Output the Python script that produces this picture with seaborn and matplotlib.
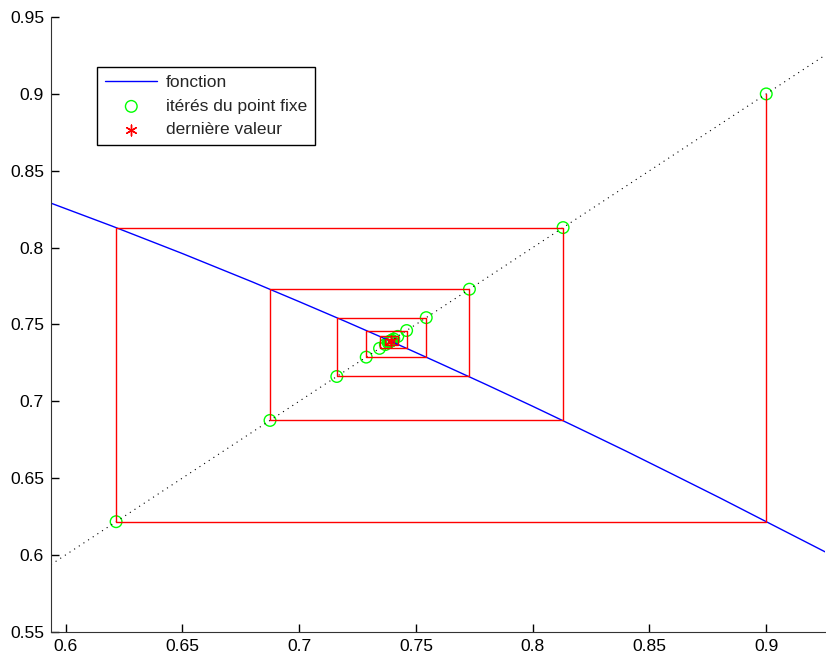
import numpy as np
import pandas as pd
import seaborn as sns
import matplotlib
matplotlib.use('Agg')
import matplotlib.pyplot as plt

# courbe de la fonction
fonc_x = [0.5937, 0.62, 0.65, 0.68, 0.70, 0.72, 0.74, 0.76, 0.78, 0.80, 0.82, 0.84, 0.86, 0.88, 0.90, 0.9253]
fonc_y = [0.8289, 0.8139, 0.7961, 0.7776, 0.7648, 0.7518, 0.7385, 0.7248, 0.7109, 0.6967, 0.6822, 0.6675, 0.6524, 0.6372, 0.6216, 0.6019]

# itérés du point fixe
iteres = [0.9000, 0.6216, 0.8130, 0.6875, 0.7729, 0.7161, 0.7544, 0.7287, 0.7460,
          0.7344, 0.7422, 0.7369, 0.7405, 0.7381, 0.7397, 0.7386, 0.7394, 0.7389,
          0.7392, 0.7390, 0.7391]
derniere = iteres[-1]

# diagonale y = x
diag = [0.5937, 0.9253]

sns.set_style('ticks')
plt.rcParams['font.family'] = ['Liberation Sans', 'DejaVu Sans']

fig = plt.figure(figsize=(8.26, 6.57), dpi=100)
ax = fig.add_axes([0.0617, 0.0385, 0.9375, 0.9355])

# escalier (cobweb)
cx, cy = [], []
for k in range(len(iteres) - 1):
    cx += [iteres[k], iteres[k]]
    cy += [iteres[k], iteres[k + 1]]
cx.append(iteres[-1]); cy.append(iteres[-1])
cob = pd.DataFrame({'x': cx, 'y': cy})

sns.lineplot(x=diag, y=diag, ax=ax, color='black', linestyle=(0, (1, 4)), linewidth=0.8, sort=False)
sns.lineplot(x=fonc_x, y=fonc_y, ax=ax, color='blue', linewidth=1, sort=False, label='fonction')
sns.lineplot(data=cob, x='x', y='y', ax=ax, color='red', linewidth=1, sort=False, estimator=None)
sns.scatterplot(x=iteres, y=iteres, ax=ax, marker='o', s=70, facecolors='none',
                edgecolor='#00ff00', linewidth=1, label='itérés du point fixe')
sns.scatterplot(x=[derniere], y=[derniere], ax=ax, marker=(6, 2, 0), s=60, color='red',
                edgecolor='red', linewidth=1, label='dernière valeur')

ax.set_xlim(0.5937, 0.9253)
ax.set_ylim(0.55, 0.95)
ax.set_xticks(np.arange(0.6, 0.901, 0.05))
ax.set_xticklabels(['0.6', '0.65', '0.7', '0.75', '0.8', '0.85', '0.9'])
ax.set_yticks(np.arange(0.55, 0.951, 0.05))
ax.set_yticklabels(['0.55', '0.6', '0.65', '0.7', '0.75', '0.8', '0.85', '0.9', '0.95'])
ax.tick_params(labelsize=12.6, length=6, width=1, colors='black', direction='in', pad=5)
ax.set_xlabel('')
ax.set_ylabel('')
sns.despine(ax=ax)
for s in ['left', 'bottom']:
    ax.spines[s].set_color('#333333')

leg = ax.legend(loc='upper left', bbox_to_anchor=(0.06, 0.918), fontsize=12.5,
                frameon=True, fancybox=False, edgecolor='black', framealpha=1,
                borderpad=0.45, handlelength=3.0, labelspacing=0.48, handletextpad=0.5,
                borderaxespad=0)
leg.get_frame().set_linewidth(1)

fig.savefig('out.png', dpi=100)
